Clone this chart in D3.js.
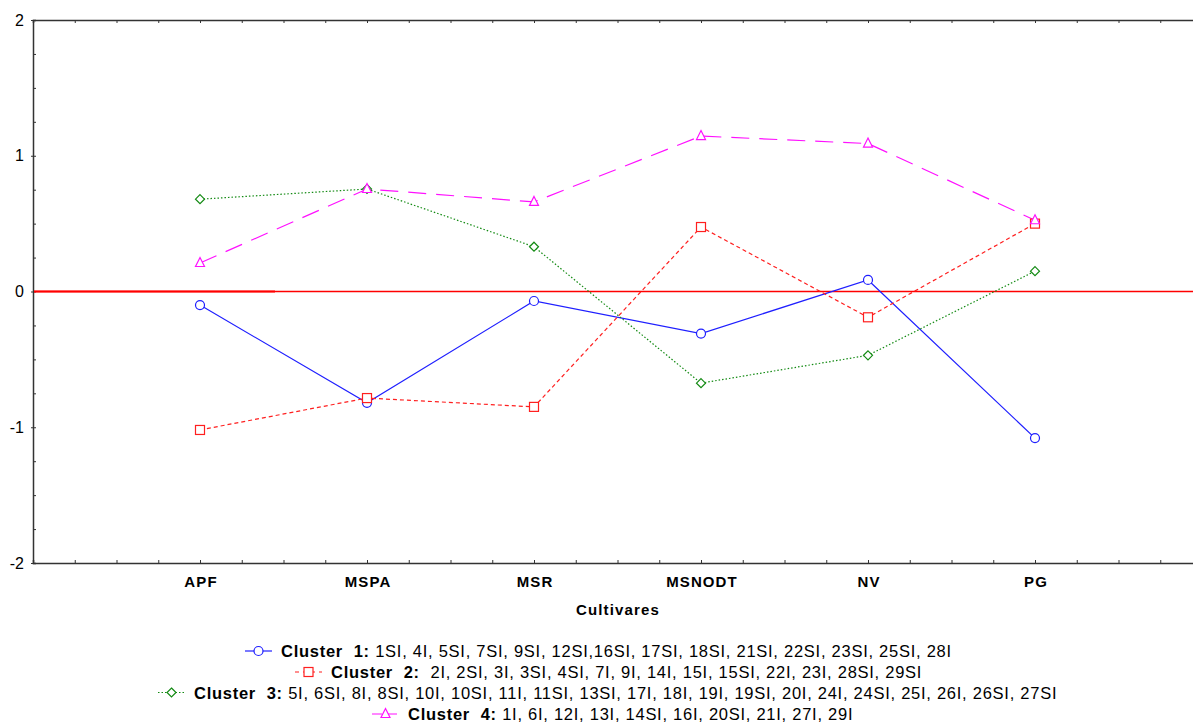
<!DOCTYPE html>
<html lang="en">
<head>
    <meta charset="UTF-8">
    <title>Cluster means by variable</title>
    <script src="https://cdnjs.cloudflare.com/ajax/libs/d3/7.9.0/d3.min.js"></script>
    <style>
        body { margin: 0; background: #fff; font-family: "Liberation Sans", Arial, sans-serif; }
        .axis path, .axis line { stroke: #333; }
        .axis text { fill: #000; }
        .legend text { white-space: pre; font-size: 16.5px; letter-spacing: 0.74px; }
    </style>
</head>
<body>
<div id="chart"></div>
<script>
    // data
    const categories = ["APF", "MSPA", "MSR", "MSNODT", "NV", "PG"];
    const cluster1 = [-0.10, -0.82, -0.07, -0.31, 0.085, -1.08];
    const cluster2 = [-1.02, -0.785, -0.85, 0.475, -0.19, 0.50];
    const cluster3 = [0.68, 0.755, 0.33, -0.675, -0.47, 0.15];
    const cluster4 = [0.21, 0.755, 0.66, 1.145, 1.09, 0.525];
    const yTicks = [-2, -1, 0, 1, 2];
    const clusterNames = ["Cluster  1:", "Cluster  2:", "Cluster  3:", "Cluster  4:"];
    const clusterMembers = [
        " 1SI, 4I, 5SI, 7SI, 9SI, 12SI,16SI, 17SI, 18SI, 21SI, 22SI, 23SI, 25SI, 28I",
        "  2I, 2SI, 3I, 3SI, 4SI, 7I, 9I, 14I, 15I, 15SI, 22I, 23I, 28SI, 29SI",
        " 5I, 6SI, 8I, 8SI, 10I, 10SI, 11I, 11SI, 13SI, 17I, 18I, 19I, 19SI, 20I, 24I, 24SI, 25I, 26I, 26SI, 27SI",
        " 1I, 6I, 12I, 13I, 14SI, 16I, 20SI, 21I, 27I, 29I"
    ];

    const styles = [
        { color: "#1f1fff", dash: null, legendDash: null, marker: "circle" },
        { color: "#ff1f1f", dash: "4,3", legendDash: "4,4", marker: "square" },
        { color: "#138a13", dash: "1.5,2", legendDash: "1.5,2", marker: "diamond" },
        { color: "#ff10ff", dash: "18,10", legendDash: "10,5", marker: "triangle" }
    ];
    const series = [cluster1, cluster2, cluster3, cluster4];

    const width = 1193, height = 724;
    const plotLeft = 33, plotTop = 20, plotBottom = 563;

    const svg = d3.select("#chart").append("svg")
        .attr("width", width)
        .attr("height", height);

    const x = d3.scaleLinear().domain([-1, 6]).range([plotLeft, 1202]);
    const y = d3.scaleLinear().domain([-2, 2]).range([plotBottom, plotTop]);

    const minorX = d3.range(-1, 6.001, 0.25);
    const minorY = d3.range(-2, 2.001, 0.25);

    // top axis, inward ticks
    svg.append("g").attr("class", "axis")
        .attr("transform", `translate(0,${plotTop})`)
        .call(d3.axisBottom(x).tickValues(minorX).tickSize(3).tickFormat(""))
        .select(".domain").attr("stroke-width", 1.5);

    // bottom axis: minor inward ticks
    svg.append("g").attr("class", "axis")
        .attr("transform", `translate(0,${plotBottom})`)
        .call(d3.axisTop(x).tickValues(minorX).tickSize(3).tickFormat(""))
        .select(".domain").attr("stroke-width", 1.5);

    // bottom category labels
    const xLab = svg.append("g").attr("class", "axis")
        .attr("transform", `translate(0,${plotBottom})`)
        .call(d3.axisBottom(x).tickValues(d3.range(categories.length)).tickSize(0)
            .tickFormat(i => categories[i]));
    xLab.select(".domain").remove();
    xLab.selectAll("text")
        .attr("y", 24)
        .attr("dy", 0)
        .attr("dx", "0.5px")
        .style("font-size", "15px")
        .style("letter-spacing", "1.1px")
        .style("font-weight", "bold")
        .style("font-family", "Liberation Sans, Arial, sans-serif");

    // left axis
    svg.append("g").attr("class", "axis")
        .attr("transform", `translate(${plotLeft},0)`)
        .call(d3.axisRight(y).tickValues(minorY).tickSize(3).tickFormat(""))
        .select(".domain").attr("stroke-width", 1.5);

    const yLab = svg.append("g").attr("class", "axis")
        .attr("transform", `translate(${plotLeft},0)`)
        .call(d3.axisLeft(y).tickValues(yTicks).tickSize(2).tickPadding(7)
            .tickFormat(d => String(d)));
    yLab.select(".domain").remove();
    yLab.selectAll("text")
        .style("font-size", "16px")
        .style("font-family", "Liberation Sans, Arial, sans-serif");

    svg.append("text")
        .attr("x", x(2.5) + 0.5)
        .attr("y", 615)
        .attr("text-anchor", "middle")
        .style("font-size", "15px")
        .style("letter-spacing", "1.15px")
        .style("font-weight", "bold")
        .text("Cultivares");

    // zero reference line
    const y0 = y(0);
    svg.append("line")
        .attr("x1", plotLeft + 1).attr("x2", width)
        .attr("y1", y0).attr("y2", y0)
        .style("stroke", "#ff0000").style("stroke-width", 1.6);
    svg.append("line")
        .attr("x1", plotLeft + 1).attr("x2", 275)
        .attr("y1", y0).attr("y2", y0)
        .style("stroke", "#ff0000").style("stroke-width", 2);

    function drawMarker(g, type, color) {
        if (type === "circle") {
            g.append("circle").attr("r", 4.5);
        } else if (type === "square") {
            g.append("rect").attr("x", -4.5).attr("y", -4.5).attr("width", 9).attr("height", 9);
        } else if (type === "diamond") {
            g.append("path").attr("d", "M0,-4.5L4.5,0L0,4.5L-4.5,0Z");
        } else {
            g.append("path").attr("d", "M0,-5.5L4.5,3.5L-4.5,3.5Z");
        }
        g.selectAll("*").attr("fill", "#fff").attr("stroke", color).attr("stroke-width", 1.2);
    }

    const line = d3.line().x((d, i) => x(i)).y(d => y(d));

    series.forEach((vals, k) => {
        const s = styles[k];
        svg.append("path")
            .datum(vals)
            .attr("d", line)
            .attr("fill", "none")
            .attr("stroke", s.color)
            .attr("stroke-width", 1.2)
            .attr("stroke-dasharray", s.dash);
    });
    series.forEach((vals, k) => {
        const s = styles[k];
        vals.forEach((v, i) => {
            const g = svg.append("g").attr("transform", `translate(${x(i)},${y(v)})`);
            drawMarker(g, s.marker, s.color);
        });
    });

    // legend rows (left edge of each row's symbol, as in the reference)
    const legendBase = [657, 678, 698.5, 720];
    const legendLeft = [245, 295, 158, 372];
    series.forEach((vals, k) => {
        const s = styles[k];
        const row = svg.append("g").attr("class", "legend");
        const symW = 27, gap = 9;
        const x0 = legendLeft[k];
        const t = row.append("text")
            .attr("x", x0 + symW + gap)
            .attr("y", legendBase[k]);
        t.append("tspan").style("font-weight", "bold").text(clusterNames[k]);
        t.append("tspan").text(clusterMembers[k]);
        const cy = legendBase[k] - 6;
        row.append("line")
            .attr("x1", x0).attr("x2", x0 + symW)
            .attr("y1", cy).attr("y2", cy)
            .attr("stroke", s.color).attr("stroke-width", 1.2)
            .attr("stroke-dasharray", s.legendDash);
        const mg = row.append("g").attr("transform", `translate(${x0 + symW / 2},${cy})`);
        drawMarker(mg, s.marker, s.color);
    });
</script>
</body>
</html>
